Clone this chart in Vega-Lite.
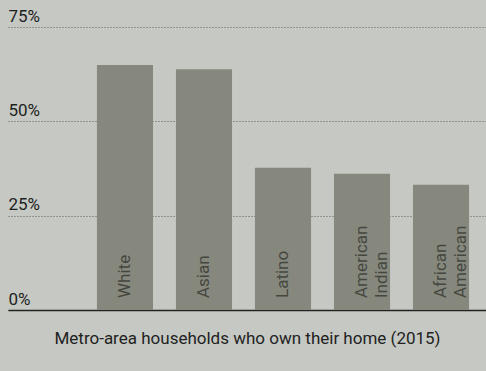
{
  "$schema": "https://vega.github.io/schema/vega-lite/v6.json",
  "width": 478,
  "height": 283,
  "padding": {"left": 8, "top": 27, "right": 0, "bottom": 61},
  "autosize": {"type": "none"},
  "background": "#c6c9c3",
  "config": {"view": {"stroke": null}, "font": "Roboto"},
  "data": {
    "values": [
      {"group": "White", "label": "White", "pct": 64.9},
      {"group": "Asian", "label": "Asian", "pct": 63.8},
      {"group": "Latino", "label": "Latino", "pct": 37.7},
      {"group": "American Indian", "label": "American\nIndian", "pct": 36.1},
      {"group": "African American", "label": "African\nAmerican", "pct": 33.2}
    ]
  },
  "encoding": {
    "x": {
      "field": "group",
      "type": "nominal",
      "sort": null,
      "scale": {"paddingInner": 0.29, "paddingOuter": 0.67, "align": 0.84},
      "axis": {
        "title": "Metro-area households who own their home (2015)",
        "titleFont": "Roboto",
        "titleFontSize": 17,
        "titleFontWeight": "normal",
        "titleColor": "#222222",
        "titlePadding": 20,
        "labels": false,
        "ticks": false,
        "domain": true,
        "domainColor": "#222222",
        "domainWidth": 1.5
      }
    }
  },
  "layer": [
    {
      "mark": {"type": "bar", "color": "#86887e"},
      "encoding": {
        "y": {
          "field": "pct",
          "type": "quantitative",
          "scale": {"domain": [0, 75], "nice": false},
          "axis": {
            "title": null,
            "values": [0, 25, 50, 75],
            "domain": false,
            "ticks": false,
            "tickSize": 0,
            "labelPadding": 0,
            "labelAlign": "left",
            "labelBaseline": "bottom",
            "labelOffset": -2,
            "labelExpr": "datum.value + '%'",
            "labelFont": "Roboto",
            "labelFontSize": 17,
            "labelColor": "#1e1e1e",
            "grid": true,
            "gridColor": "#5a5c58",
            "gridDash": [1, 2],
            "gridWidth": 1
          }
        }
      }
    },
    {
      "mark": {
        "type": "text",
        "angle": 270,
        "align": "left",
        "baseline": "middle",
        "dx": 12,
        "font": "Roboto",
        "fontSize": 17,
        "lineHeight": 20,
        "lineBreak": "\n",
        "color": "#45473f"
      },
      "encoding": {
        "y": {"datum": 0, "type": "quantitative"},
        "text": {"field": "label"}
      }
    }
  ]
}
